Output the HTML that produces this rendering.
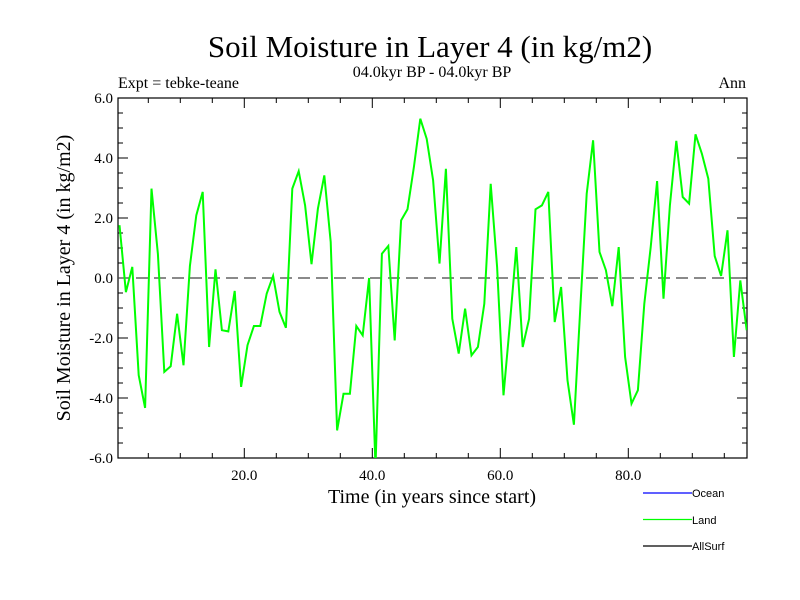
<!DOCTYPE html>
<html><head><meta charset="utf-8"><style>
body{margin:0;background:#fff}
svg{display:block}
text{font-family:"Liberation Serif",serif;fill:#000}
.leg{font-family:"Liberation Sans",sans-serif;font-size:11px}
</style></head><body>
<svg id="chart" width="800" height="600" viewBox="0 0 800 600">
<rect width="800" height="600" fill="#fff"/>
<text x="430" y="57" font-size="31" text-anchor="middle">Soil Moisture in Layer 4 (in kg/m2)</text>
<text x="432" y="77" font-size="16" text-anchor="middle">04.0kyr BP - 04.0kyr BP</text>
<text x="118" y="88" font-size="16">Expt = tebke-teane</text>
<text x="746" y="88" font-size="16" text-anchor="end">Ann</text>
<g id="axes"></g>
<g id="series"></g>
<text x="432" y="503" font-size="20" text-anchor="middle">Time (in years since start)</text>
<text transform="translate(70,278) rotate(-90)" font-size="20" text-anchor="middle">Soil Moisture in Layer 4 (in kg/m2)</text>
<g>
<line x1="643" y1="493" x2="692" y2="493" stroke="#0000ff" stroke-width="1.3"/>
<text class="leg" x="692" y="497">Ocean</text>
<line x1="643" y1="519.5" x2="692" y2="519.5" stroke="#00ff00" stroke-width="1.3"/>
<text class="leg" x="692" y="524">Land</text>
<line x1="643" y1="546" x2="692" y2="546" stroke="#000" stroke-width="1.3"/>
<text class="leg" x="692" y="550">AllSurf</text>
</g>
</svg>
<script>
const landValues = [1.76,-0.47,0.37,-3.24,-4.33,2.98,0.8,-3.13,-2.94,-1.19,-2.91,0.4,2.09,2.87,-2.3,0.29,-1.74,-1.78,-0.43,-3.63,-2.24,-1.6,-1.6,-0.52,0.07,-1.13,-1.66,2.98,3.56,2.42,0.46,2.31,3.42,1.2,-5.08,-3.86,-3.86,-1.6,-1.91,0.0,-6.3,0.81,1.07,-2.08,1.92,2.29,3.7,5.31,4.64,3.26,0.48,3.64,-1.36,-2.52,-1.02,-2.58,-2.3,-0.86,3.14,0.37,-3.91,-1.52,1.03,-2.3,-1.36,2.29,2.42,2.87,-1.47,-0.3,-3.41,-4.89,-1.0,2.81,4.59,0.87,0.26,-0.94,1.03,-2.63,-4.19,-3.74,-0.86,1.03,3.23,-0.69,2.42,4.57,2.7,2.48,4.79,4.14,3.31,0.73,0.07,1.59,-2.63,-0.08,-1.74];
const timeStart = 0.5;
const yTickLabels = ["-6.0","-4.0","-2.0","0.0","2.0","4.0","6.0"];
const yTickValues = [-6,-4,-2,0,2,4,6];
const xTickLabels = ["20.0","40.0","60.0","80.0"];
const xTickValues = [20,40,60,80];

const NS="http://www.w3.org/2000/svg";
const L=118,R=747,T=98,B=458;
const xs=t=>116.3+6.4*t;
const ys=v=>278-30*v;
function mk(tag,attrs,parent){const e=document.createElementNS(NS,tag);for(const k in attrs)e.setAttribute(k,attrs[k]);parent.appendChild(e);return e;}
const axes=document.getElementById('axes');
const frame=mk('rect',{x:L,y:T,width:R-L,height:B-T,fill:'none',stroke:'#000','stroke-width':1.2},axes);


for(let v=-6;v<=6.001;v+=0.5){
  const major=Math.abs(v%2)<1e-6, len=major?10:5, y=ys(v);
  const a=mk('line',{x1:L,y1:y,x2:L+len,y2:y,stroke:'#000'},axes);
  
  
  const b=mk('line',{x1:R,y1:y,x2:R-len,y2:y,stroke:'#000'},axes);
  
  
}
yTickValues.forEach((v,i)=>{
  const t=mk('text',{x:L-5,y:ys(v)+5,'font-size':15,'text-anchor':'end'},axes);
  t.textContent=yTickLabels[i];
  
  
});
for(let t=5;t<=95;t+=5){
  const major=t%20===0,len=major?10:5,x=xs(t);
  const a=mk('line',{x1:x,y1:B,x2:x,y2:B-len,stroke:'#000'},axes);
  
  
  const b=mk('line',{x1:x,y1:T,x2:x,y2:T+len,stroke:'#000'},axes);
  
  
}
xTickValues.forEach((v,i)=>{
  const t=mk('text',{x:xs(v),y:B+22,'font-size':15,'text-anchor':'middle'},axes);
  t.textContent=xTickLabels[i];
  
  
});
const zl=mk('line',{x1:L,y1:ys(0),x2:R,y2:ys(0),stroke:'#444','stroke-dasharray':'12,6','stroke-width':1.2},axes);


const series=document.getElementById('series');
const cp=mk('clipPath',{id:'clip'},series);
mk('rect',{x:L,y:T,width:R-L,height:B-T},cp);
const pts=landValues.map((v,i)=>xs(timeStart+i).toFixed(1)+','+ys(v).toFixed(1)).join(' ');
const pl=mk('polyline',{points:pts,fill:'none',stroke:'#00ff00','stroke-width':2,'clip-path':'url(#clip)'},series);


</script>
</body></html>
